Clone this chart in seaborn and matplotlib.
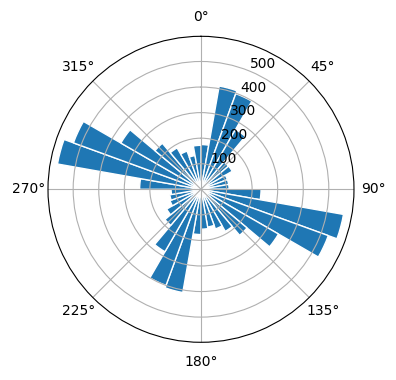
import numpy as np
import matplotlib
matplotlib.use("Agg")
import matplotlib.pyplot as plt
import seaborn as sns

# direction bins (degrees, left edge of each 10-degree sector)
directions = list(range(0, 360, 10))
# counts per sector
counts = [175, 410, 398, 270, 140, 141, 110, 110, 110,
          235, 566, 530, 350, 235, 190, 165, 150, 156,
          177, 410, 400, 282, 184, 155, 129, 124, 117,
          240, 570, 531, 362, 235, 187, 159, 134, 172]
sector_width_deg = 10

color = sns.color_palette("tab10")[0]

fig = plt.figure(figsize=(3.96, 3.8), dpi=100)
ax = fig.add_axes([0.1212, 0.0992, 0.7727, 0.8053], projection="polar")
ax.set_theta_zero_location("N")
ax.set_theta_direction(-1)

theta = np.deg2rad(directions)
ax.bar(theta, counts, width=np.deg2rad(sector_width_deg), align="edge",
       color=color, edgecolor="white", linewidth=1.0)

fig.savefig("out.png", dpi=100)
